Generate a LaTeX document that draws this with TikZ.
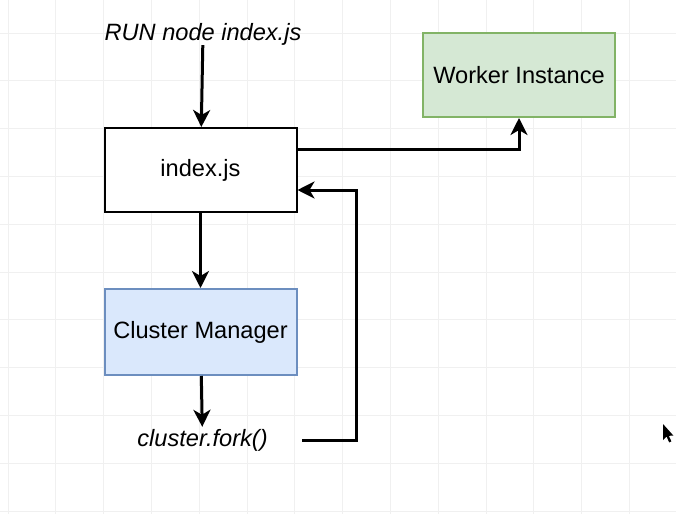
\documentclass[tikz,border=0pt]{standalone}
\usepackage{fontspec}
\setmainfont{Liberation Sans}
\usetikzlibrary{arrows.meta,calc}
\definecolor{gridgray}{HTML}{F0F0F0}
\definecolor{greenfill}{HTML}{D5E8D4}
\definecolor{greenline}{HTML}{82B366}
\definecolor{bluefill}{HTML}{DAE8FC}
\definecolor{blueline}{HTML}{6C8EBF}
\tikzset{
  gridline/.style={gridgray, line width=0.9pt},
  box/.style={rectangle, draw, line width=2pt, inner sep=0pt,
    minimum width=192pt, minimum height=84pt,
    font=\fontsize{23.6}{28}\selectfont},
  plainbox/.style={box, fill=white, draw=black},
  workerbox/.style={box, fill=greenfill, draw=greenline},
  managerbox/.style={box, fill=bluefill, draw=blueline, minimum height=86pt},
  label/.style={inner sep=0pt, font=\fontsize{23.6}{28}\selectfont\itshape},
  conn/.style={line width=3pt, -{Stealth[length=17pt,width=17pt,inset=5pt]}},
}
\begin{document}
\begin{tikzpicture}[x=1pt,y=-1pt]
  \useasboundingbox (0,0) rectangle (676,514);
  \fill[white] (0,0) rectangle (676,514);

  % background grid
  \foreach \i in {0,...,13}
    \draw[gridline] ({8+47.8*\i},0) -- ({8+47.8*\i},514);
  \foreach \i in {0,...,10}
    \draw[gridline] (0,{33+47.8*\i}) -- (676,{33+47.8*\i});

  % nodes
  \node[label, minimum height=22pt] (run) at (203,34) {RUN node index.js};
  \node[plainbox] (idx) at (200.5,170) {index.js};
  \node[workerbox] (wrk) at (519,75) {Worker Instance};
  \node[managerbox] (mgr) at (200.5,332) {Cluster Manager};
  \node[label, minimum height=26pt, minimum width=199pt] (fork) at (202.5,440) {cluster.fork()};

  % connectors
  \draw[conn] (run) -- (idx);
  \draw[conn] (idx) -- (mgr);
  \draw[conn] (mgr) -- (fork);
  \draw[conn] ([yshift=21pt]idx.east) -| (wrk.south);
  \draw[conn] (fork.east) -| ([xshift=58.5pt,yshift=-20pt]idx.east) -- ([yshift=-20pt]idx.east);

  % mouse pointer
  \fill[black] (663,424) -- (663,440) -- (666.6,436.6) -- (669.2,442.4) -- (671.4,441.4)
    -- (668.8,435.8) -- (673.4,435.6) -- cycle;
\end{tikzpicture}
\end{document}
